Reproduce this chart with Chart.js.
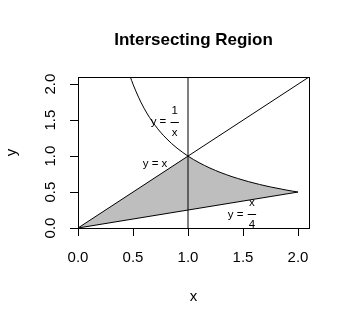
<!DOCTYPE html>
<html>
<head>
<meta charset="utf-8">
<title>Intersecting Region</title>
<script src="https://cdn.jsdelivr.net/npm/chart.js@4.4.0/dist/chart.umd.min.js"></script>
<style>
  body{margin:0;background:#fff;}
  #wrap{width:350px;height:326px;}
</style>
</head>
<body>
<div id="wrap"><canvas id="myChart"></canvas></div>
<script>
// Chart values
    const tickValues = [0, 0.5, 1, 1.5, 2];
    // y = 1/x
    const curveX = [0.476, 0.5, 0.55, 0.6, 0.65, 0.7, 0.75, 0.8, 0.85, 0.9, 0.95, 1.0, 1.05, 1.1, 1.15, 1.2, 1.25, 1.3, 1.35, 1.4, 1.45, 1.5, 1.55, 1.6, 1.65, 1.7, 1.75, 1.8, 1.85, 1.9, 1.95, 2.0];
    const curveY = [2.1, 2.0, 1.82, 1.667, 1.538, 1.429, 1.333, 1.25, 1.176, 1.111, 1.053, 1.0, 0.952, 0.909, 0.87, 0.833, 0.8, 0.769, 0.741, 0.714, 0.69, 0.667, 0.645, 0.625, 0.606, 0.588, 0.571, 0.556, 0.541, 0.526, 0.513, 0.5];
    // y = x
    const diagX = [0, 2.1];
    const diagY = [0, 2.1];
    // y = x/4
    const quarterX = [0, 2];
    const quarterY = [0, 0.5];
    // x = 1
    const vertX = [1, 1];
    const vertY = [0, 2.1];
// End values

    const fontFamily = '"Liberation Sans", Arial, sans-serif';

    function toPoints(xs, ys){
        return xs.map((x, i) => ({x: x, y: ys[i]}));
    }

    // shaded area: origin, up to (1,1), along 1/x to (2,0.5), closed back along y = x/4
    const regionPts = [{x: 0, y: 0}].concat(toPoints(curveX, curveY).filter(p => p.x >= 1));

    // text put inside the plot (x, y in data units)
    const notes = [
        {x: 0.70, y: 0.89, text: 'y = x'},
        {x: 0.879, y: 1.473, lhs: 'y = ', num: '1', den: 'x'},
        {x: 1.581, y: 0.19, lhs: 'y = ', num: 'x', den: '4'}
    ];

    // draw the box and the labels
    const plotExtras = {
        id: 'plotExtras',
        afterDatasetsDraw(chart){
            const ctx = chart.ctx;
            const a = chart.chartArea;
            const xs = chart.scales.x;
            const ys = chart.scales.y;
            ctx.save();
            ctx.strokeStyle = '#000';
            ctx.lineWidth = 1;
            ctx.strokeRect(Math.round(a.left) + 0.5, Math.round(a.top) + 0.5,
                Math.round(a.right) - Math.round(a.left), Math.round(a.bottom) - Math.round(a.top));

            ctx.fillStyle = '#000';
            ctx.font = '11.5px ' + fontFamily;
            ctx.textBaseline = 'middle';
            notes.forEach(n => {
                const px = xs.getPixelForValue(n.x);
                const py = ys.getPixelForValue(n.y);
                if(n.text){
                    ctx.textAlign = 'center';
                    ctx.fillText(n.text, px, py);
                    return;
                }
                const w = Math.max(ctx.measureText(n.num).width, ctx.measureText(n.den).width) + 2;
                ctx.textAlign = 'right';
                ctx.fillText(n.lhs, px - w / 2 - 1, py);
                ctx.beginPath();
                ctx.moveTo(px - w / 2, Math.round(py) + 0.5);
                ctx.lineTo(px + w / 2, Math.round(py) + 0.5);
                ctx.stroke();
                ctx.textAlign = 'center';
                ctx.fillText(n.num, px, py - 11.5);
                ctx.fillText(n.den, px, py + 10.5);
            });
            ctx.restore();
        }
    };

    function lineSet(pts, extra){
        return Object.assign({
            data: pts,
            showLine: true,
            pointRadius: 0,
            borderColor: '#000',
            borderWidth: 1,
            fill: false,
            order: 0
        }, extra || {});
    }

    const ctx = document.getElementById('myChart').getContext('2d');
    const myChart = new Chart(ctx, {
        type: 'scatter',
        data: {
            datasets: [
                lineSet(regionPts, {borderWidth: 0, backgroundColor: '#BEBEBE', fill: 'shape', order: 5}),
                lineSet(toPoints(curveX, curveY), {cubicInterpolationMode: 'monotone'}),
                lineSet(toPoints(diagX, diagY)),
                lineSet(toPoints(quarterX, quarterY)),
                lineSet(toPoints(vertX, vertY))
            ]
        },
        options: {
            responsive: true,
            maintainAspectRatio: false,
            animation: false,
            events: [],
            layout: {padding: {left: 0, right: 41, top: 0, bottom: 0}},
            plugins: {
                legend: {display: false},
                tooltip: {enabled: false},
                title: {
                    display: true,
                    text: 'Intersecting Region',
                    fullSize: false,
                    color: '#000',
                    font: {family: fontFamily, size: 17, weight: 'bold'},
                    padding: {top: 30.6, bottom: 26}
                }
            },
            scales: {
                x: {
                    type: 'linear',
                    min: 0,
                    max: 2.1,
                    afterBuildTicks: s => { s.ticks = tickValues.map(v => ({value: v})); },
                    afterFit: s => { s.height = 98; },
                    ticks: {
                        color: '#000',
                        font: {family: fontFamily, size: 15},
                        padding: 13,
                        maxRotation: 0,
                        autoSkip: false,
                        callback: v => v.toFixed(1)
                    },
                    grid: {drawOnChartArea: false, drawTicks: true, tickLength: 8, color: '#000'},
                    border: {display: false},
                    title: {
                        display: true,
                        text: 'x',
                        color: '#000',
                        font: {family: fontFamily, size: 15},
                        padding: {top: 0, bottom: 20}
                    }
                },
                y: {
                    type: 'linear',
                    min: 0,
                    max: 2.1,
                    afterBuildTicks: s => { s.ticks = tickValues.map(v => ({value: v})); },
                    afterFit: s => { s.width = 78; },
                    ticks: {
                        color: '#000',
                        font: {family: fontFamily, size: 15},
                        padding: 9,
                        minRotation: 90,
                        maxRotation: 90,
                        crossAlign: 'center',
                        autoSkip: false,
                        callback: v => v.toFixed(1)
                    },
                    grid: {drawOnChartArea: false, drawTicks: true, tickLength: 8, color: '#000'},
                    border: {display: false},
                    title: {
                        display: true,
                        text: 'y',
                        color: '#000',
                        font: {family: fontFamily, size: 15},
                        padding: {top: 3, bottom: 0}
                    }
                }
            }
        },
        plugins: [plotExtras]
    });
</script>
</body>
</html>
